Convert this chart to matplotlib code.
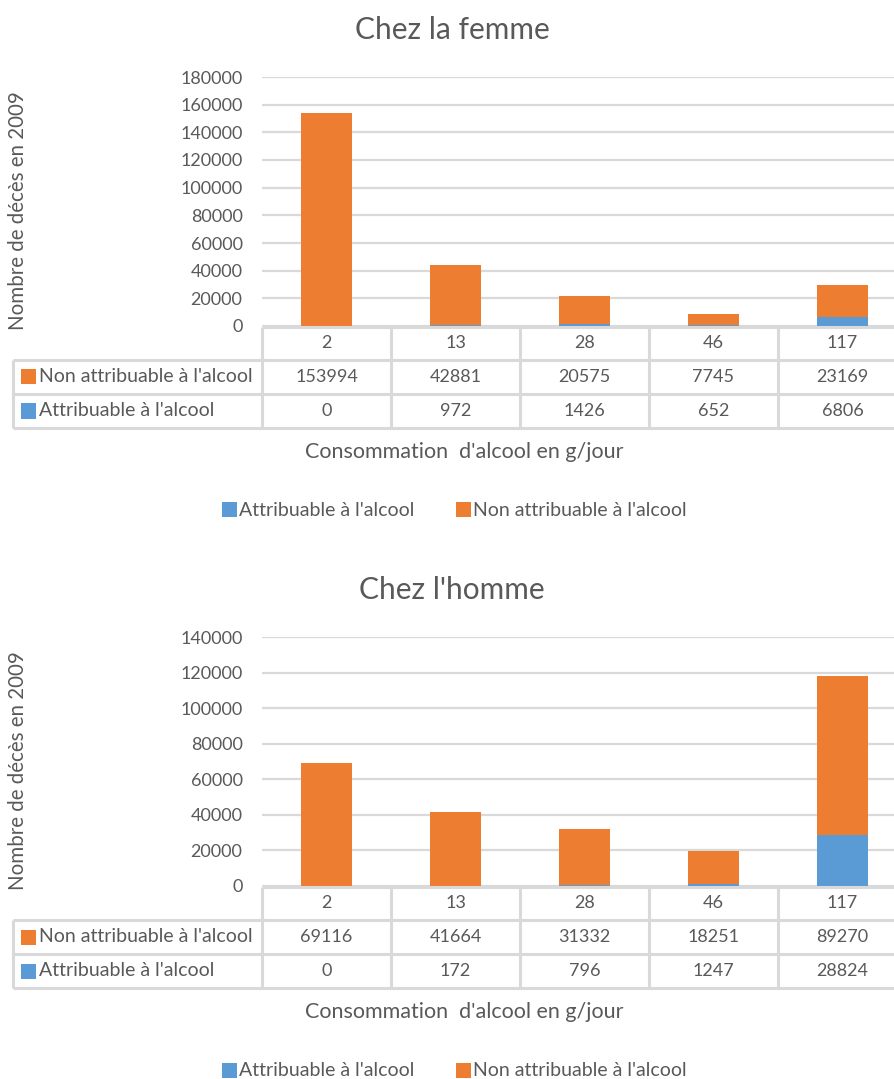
import matplotlib
matplotlib.use("Agg")
import matplotlib.pyplot as plt
from matplotlib.patches import Rectangle
from matplotlib.lines import Line2D

plt.rcParams['font.family'] = ['Lato', 'DejaVu Sans']

# Data
categories = ["2", "13", "28", "46", "117"]
femme_non_attr = [153994, 42881, 20575, 7745, 23169]
femme_attr = [0, 972, 1426, 652, 6806]
homme_non_attr = [69116, 41664, 31332, 18251, 89270]
homme_attr = [0, 172, 796, 1247, 28824]
series_names = ["Attribuable à l'alcool", "Non attribuable à l'alcool"]

BLUE = "#5B9BD5"
ORANGE = "#ED7D31"
GRID = "#D9D9D9"
TXT = "#595959"

NUM_FS = 13
LBL_FS = 14
TITLE_FS = 21.5

W, H = 895, 1079
fig = plt.figure(figsize=(W / 100, H / 100), dpi=100)


def fx(x):
    return x / W


def fy(y):
    return 1 - y / H


def hline(x0, x1, y, lw=2.2):
    fig.add_artist(Line2D([fx(x0), fx(x1)], [fy(y), fy(y)], color=GRID, lw=lw,
                          transform=fig.transFigure, solid_capstyle='butt'))


def vline(x, y0, y1, lw=2.2):
    fig.add_artist(Line2D([fx(x), fx(x)], [fy(y0), fy(y1)], color=GRID, lw=lw,
                          transform=fig.transFigure, solid_capstyle='butt'))


def ftext(x, y, s, **kw):
    kw.setdefault('color', TXT)
    kw.setdefault('va', 'center')
    fig.text(fx(x), fy(y), s, **kw)


def key(x, y, color, size=15):
    fig.add_artist(Rectangle((fx(x), fy(y + size / 2)), size / W, size / H,
                             transform=fig.transFigure, color=color, lw=0))


def panel(dy, title, ymax, non_attr, attr, y_top):
    left, right = 262, 907
    y0 = 326 + dy
    ax = fig.add_axes([fx(left), fy(y0), fx(right) - fx(left), fy(y_top) - fy(y0)])
    x = range(len(categories))
    ax.bar(x, attr, width=0.4, color=BLUE, zorder=3)
    ax.bar(x, non_attr, width=0.4, bottom=attr, color=ORANGE, zorder=3)
    ax.set_xlim(-0.5, len(categories) - 0.5)
    ax.set_ylim(0, ymax)
    ticks = list(range(0, ymax + 1, 20000))
    ax.set_yticks(ticks)
    ax.set_yticklabels([str(v) for v in ticks], fontsize=NUM_FS, color=TXT)
    ax.tick_params(axis='y', length=0, pad=14)
    ax.set_xticks([])
    ax.grid(axis='y', color=GRID, lw=1.6, zorder=0)
    for s in ax.spines.values():
        s.set_visible(False)

    # Title and y label
    ftext(452, 30 + dy, title, ha='center', fontsize=TITLE_FS)
    ftext(18, 211 + dy, "Nombre de décès en 2009", ha='center', rotation=90, fontsize=14.8)

    # Data table
    col_w = (right - left) / len(categories)
    r_top, r_h1, r_h2, r_bot = 327 + dy, 360 + dy, 394 + dy, 428 + dy
    hline(left, right, r_top)
    hline(13, right, r_h1)
    hline(13, right, r_h2)
    hline(13, right, r_bot)
    vline(13, r_h1, r_bot)
    for i in range(len(categories) + 1):
        vline(left + i * col_w, r_top, r_bot)
    for i, c in enumerate(categories):
        cx = left + (i + 0.5) * col_w
        ftext(cx, (r_top + r_h1) / 2, c, ha='center', fontsize=NUM_FS)
        ftext(cx, (r_h1 + r_h2) / 2, str(non_attr[i]), ha='center', fontsize=NUM_FS)
        ftext(cx, (r_h2 + r_bot) / 2, str(attr[i]), ha='center', fontsize=NUM_FS)
    key(21, (r_h1 + r_h2) / 2, ORANGE)
    ftext(39, (r_h1 + r_h2) / 2, series_names[1], ha='left', fontsize=LBL_FS)
    key(21, (r_h2 + r_bot) / 2, BLUE)
    ftext(39, (r_h2 + r_bot) / 2, series_names[0], ha='left', fontsize=LBL_FS)

    # Axis title and legend
    ftext(464, 452 + dy, "Consommation  d'alcool en g/jour", ha='center', fontsize=15.5)
    key(222, 510 + dy, BLUE)
    ftext(239, 510 + dy, series_names[0], ha='left', fontsize=LBL_FS)
    key(456, 510 + dy, ORANGE)
    ftext(473, 510 + dy, series_names[1], ha='left', fontsize=LBL_FS)


panel(0, "Chez la femme", 180000, femme_non_attr, femme_attr, 77)
panel(560, "Chez l'homme", 140000, homme_non_attr, homme_attr, 637)

fig.savefig("out.png", dpi=100, facecolor="white")
